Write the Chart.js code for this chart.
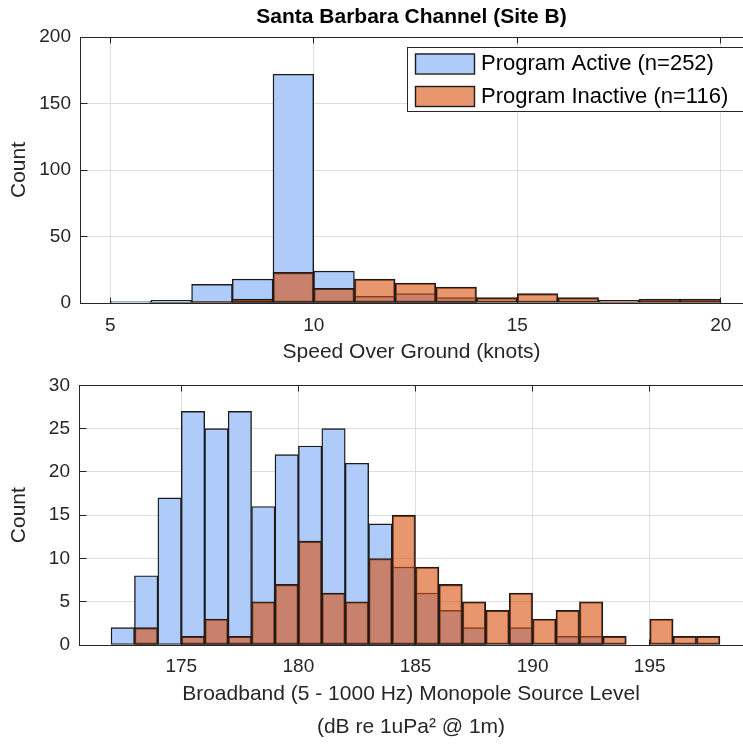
<!DOCTYPE html>
<html>
<head>
<meta charset="utf-8">
<script src="https://cdn.jsdelivr.net/npm/chart.js@4"></script>
<style>
  html, body { margin: 0; padding: 0; background: #fff; }
  body { width: 743px; height: 744px; position: relative; overflow: hidden; }
  canvas { position: absolute; left: 0; }
  #speed { top: 0; }
  #level { top: 365px; }
</style>
</head>
<body>
<canvas id="speed" width="743" height="365"></canvas>
<canvas id="level" width="743" height="379"></canvas>
<script>
const chartTitle = 'Santa Barbara Channel (Site B)'
const seriesNames = ['Program Active (n=252)', 'Program Inactive (n=116)']

// speed over ground, 1 knot bins, first bin 5-6
const speedStart = 5
const speedActive   = [1, 2, 14, 18, 172, 24, 5, 7, 4, 0, 0, 0, 0, 0, 0]
const speedInactive = [0, 0, 1, 3, 23, 11, 18, 15, 12, 4, 7, 4, 2, 3, 3]
const speedTicks = [5, 10, 15, 20]
const speedCountTicks = [0, 50, 100, 150, 200]

// source level, 1 dB bins, first bin 172-173
const levelStart = 172
const levelActive   = [2, 8, 17, 27, 25, 27, 16, 22, 23, 25, 21, 14, 9, 6, 4, 2, 0, 2, 0, 1, 1, 0, 0, 0, 0, 0]
const levelInactive = [0, 2, 0, 1, 3, 1, 5, 7, 12, 6, 5, 10, 15, 9, 7, 5, 4, 6, 3, 4, 5, 1, 0, 3, 1, 1]
const levelTicks = [175, 180, 185, 190, 195]
const levelCountTicks = [0, 5, 10, 15, 20, 25, 30]

const FONT = '"Liberation Sans", Arial, Helvetica, sans-serif'
const INK = '#262626'
const BLUE = '#aecbfa'
const ORANGE = 'rgba(217, 80, 14, 0.6)'
const EDGE = '#1c1c1c'

function toBars(counts, start) {
  return counts.map((c, i) => ({ x: start + i + 0.5, y: c > 0 ? c : null }))
}

// MATLAB-ish box: top edge line + inward tick marks
const axesBox = {
  id: 'axesBox',
  beforeDatasetsDraw(chart) {
    const { ctx, chartArea: a, scales: { x, y } } = chart
    const top = Math.floor(a.top) + 0.5
    const bottom = Math.floor(a.bottom) + 0.5
    const left = Math.floor(a.left) + 0.5
    ctx.save()
    ctx.strokeStyle = INK
    ctx.lineWidth = 1
    ctx.beginPath()
    ctx.moveTo(left, top)
    ctx.lineTo(a.right + 2, top)
    x.ticks.forEach(t => {
      const px = Math.floor(x.getPixelForValue(t.value)) + 0.5
      ctx.moveTo(px, top); ctx.lineTo(px, top + 6)
      ctx.moveTo(px, bottom); ctx.lineTo(px, bottom - 6)
    })
    y.ticks.forEach(t => {
      const py = Math.floor(y.getPixelForValue(t.value)) + 0.5
      ctx.moveTo(left, py); ctx.lineTo(left + 7, py)
    })
    ctx.stroke()
    ctx.restore()
  }
}

const boxLegend = {
  id: 'boxLegend',
  afterDraw(chart, args, opts) {
    if (!opts.show) return
    const { ctx, chartArea: a } = chart
    const left = a.left + 327, top = a.top + 10
    const w = 345, h = 64
    ctx.save()
    ctx.fillStyle = '#fff'
    ctx.fillRect(left, top, w, h)
    ctx.strokeStyle = INK
    ctx.lineWidth = 1
    ctx.strokeRect(left + 0.5, top + 0.5, w, h)
    ctx.font = '22px ' + FONT
    ctx.textBaseline = 'middle'
    chart.data.datasets.forEach((ds, i) => {
      const sy = top + 6.5 + i * 32.5
      ctx.fillStyle = '#fff'
      ctx.fillRect(left + 8, sy, 59, 20)
      ctx.fillStyle = ds.backgroundColor
      ctx.fillRect(left + 8, sy, 59, 20)
      ctx.strokeStyle = EDGE
      ctx.lineWidth = 1.4
      ctx.strokeRect(left + 8.5, sy + 0.5, 59, 20)
      ctx.fillStyle = '#000'
      ctx.fillText(ds.label, left + 74, sy + 10.5)
    })
    ctx.restore()
  }
}

function makeChart(id, opt) {
  const ctx = document.getElementById(id).getContext('2d')
  return new Chart(ctx, {
    type: 'bar',
    data: {
      datasets: [
        {
          label: seriesNames[0],
          data: toBars(opt.active, opt.start),
          backgroundColor: BLUE,
          borderColor: EDGE,
          borderWidth: 1.4,
          borderSkipped: false,
          order: 2,
        },
        {
          label: seriesNames[1],
          data: toBars(opt.inactive, opt.start),
          backgroundColor: ORANGE,
          borderColor: EDGE,
          borderWidth: 1.4,
          borderSkipped: false,
          order: 1,
        }
      ]
    },
    options: {
      responsive: false,
      animation: false,
      grouped: false,
      barPercentage: 1,
      categoryPercentage: 1,
      layout: { padding: { left: 0, right: 0, top: opt.padTop, bottom: 0 } },
      scales: {
        x: {
          type: 'linear',
          offset: false,
          min: opt.xMin,
          max: opt.xMax,
          afterBuildTicks: (s) => { s.ticks = opt.xTicks.map(v => ({ value: v })) },
          afterFit: (s) => { s.height = opt.xHeight },
          grid: { color: '#dedede', drawTicks: false, offset: false },
          border: { color: INK, width: 1 },
          ticks: { color: INK, font: { family: FONT, size: 19 }, padding: opt.xTickPad, maxRotation: 0 },
          title: {
            display: true,
            text: opt.xTitle,
            color: INK,
            font: { family: FONT, size: 21, lineHeight: opt.xTitleLH },
            padding: { top: 0, bottom: opt.xTitlePad },
          }
        },
        y: {
          min: 0,
          max: opt.yTicks[opt.yTicks.length - 1],
          afterBuildTicks: (s) => { s.ticks = opt.yTicks.map(v => ({ value: v })) },
          afterFit: (s) => { s.width = opt.yWidth },
          grid: { color: '#dedede', drawTicks: false },
          border: { color: INK, width: 1 },
          ticks: { color: INK, font: { family: FONT, size: 19 }, padding: 9 },
          title: {
            display: true,
            text: 'Count',
            color: INK,
            font: { family: FONT, size: 21 },
            padding: { top: 7, bottom: 0 },
          }
        }
      },
      plugins: {
        legend: { display: false },
        tooltip: { enabled: false },
        title: {
          display: !!opt.title,
          text: opt.title,
          fullSize: false,
          color: '#000',
          font: { family: FONT, size: 21, weight: 'bold', lineHeight: 1.2 },
          padding: { top: 4.4, bottom: 7.4 },
        },
        boxLegend: { show: !!opt.legend },
      }
    },
    plugins: [axesBox, boxLegend]
  })
}

makeChart('speed', {
  start: speedStart,
  active: speedActive,
  inactive: speedInactive,
  xMin: 4.258, xMax: 20.548,
  xTicks: speedTicks,
  yTicks: speedCountTicks,
  xTitle: 'Speed Over Ground (knots)',
  xTitleLH: 1.2,
  xTitlePad: 0.4,
  xTickPad: 11,
  xHeight: 62,
  yWidth: 80,
  padTop: 0,
  title: chartTitle,
  legend: true,
})

makeChart('level', {
  start: levelStart,
  active: levelActive,
  inactive: levelInactive,
  xMin: 170.632, xMax: 198.984,
  xTicks: levelTicks,
  yTicks: levelCountTicks,
  xTitle: ['Broadband (5 - 1000 Hz) Monopole Source Level', '(dB re 1uPa\u00b2 @ 1m)'],
  xTitleLH: 1.55,
  xTitlePad: 0.7,
  xTickPad: 10,
  xHeight: 99,
  yWidth: 79,
  padTop: 10,
  title: null,
  legend: false,
})
</script>
</body>
</html>
